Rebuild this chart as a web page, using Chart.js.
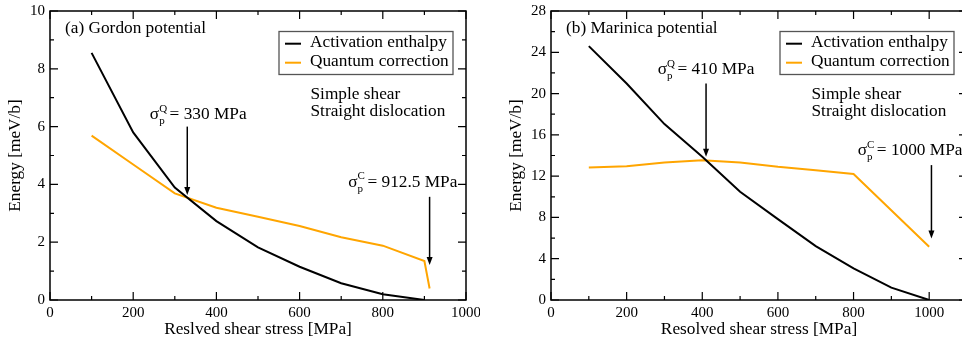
<!DOCTYPE html>
<html>
<head>
<meta charset="utf-8">
<title>Activation enthalpy</title>
<script src="https://cdn.jsdelivr.net/npm/chart.js"></script>
<style>
  body { margin: 0; width: 962px; height: 346px; overflow: hidden; background: #fff; }
  .panel { position: absolute; top: 0; }
</style>
</head>
<body>
<div class="panel" style="left:0"><canvas id="chartA" width="480" height="346"></canvas></div>
<div class="panel" style="left:480px"><canvas id="chartB" width="500" height="346"></canvas></div>

<script>
// (a) Gordon potential
var stressA   = [100, 200, 300, 400, 500, 600, 700, 800, 900];
var enthalpyA = [8.55, 5.80, 3.89, 2.73, 1.82, 1.15, 0.58, 0.20, 0.0];
var stressQA  = [100, 200, 300, 400, 500, 600, 700, 800, 900, 912.5];
var quantumA  = [5.69, 4.69, 3.69, 3.19, 2.88, 2.56, 2.17, 1.88, 1.35, 0.40];

// (b) Marinica potential
var stressB   = [100, 200, 300, 400, 500, 600, 700, 800, 900, 1000];
var enthalpyB = [24.6, 20.97, 17.04, 13.88, 10.49, 7.84, 5.22, 3.07, 1.2, 0.0];
var stressQB  = [100, 200, 300, 400, 500, 600, 700, 800, 1000];
var quantumB  = [12.84, 12.97, 13.33, 13.55, 13.33, 12.9, 12.58, 12.2, 5.16];

// axes: [min, max, major step, minor step]
var xAxisA = [0, 1000, 200, 100];
var yAxisA = [0, 10, 2, 1];
var xAxisB = [0, 1100, 200, 100];
var yAxisB = [0, 28, 4, 2];

var seriesNames = ["Activation enthalpy", "Quantum correction"];
var notes = ["Simple shear", "Straight dislocation"];

var serif = '"Liberation Serif", "Times New Roman", serif';
var big = "17.3px " + serif;

function pairs(xs, ys) {
    return xs.map(function (x, i) { return { x: x, y: ys[i] }; });
}

function drawSigma(ctx, x, y, sup, rest) {
    ctx.font = big;
    ctx.fillText("σ", x, y);
    var w = ctx.measureText("σ").width;
    ctx.font = "11px " + serif;
    ctx.fillText("p", x + w, y + 5);
    ctx.fillText(sup, x + w, y - 7.5);
    var sw = Math.max(ctx.measureText("p").width, ctx.measureText(sup).width);
    ctx.font = big;
    ctx.fillText(rest, x + w + sw + 2.5, y);
}

// frame with inward ticks, legend box and the annotations
var decorPlugin = {
    id: "decor",
    afterDatasetsDraw: function (chart, args, o) {
        var ctx = chart.ctx, a = chart.chartArea;
        var xs = chart.scales.x, ys = chart.scales.y;
        ctx.save();
        ctx.strokeStyle = "#000";
        ctx.fillStyle = "#000";

        // ticks
        ctx.lineWidth = 1.2;
        ctx.beginPath();
        var v, p, len;
        for (v = o.xAxis[0]; v <= o.xAxis[1] + 1e-9; v += o.xAxis[3]) {
            p = xs.getPixelForValue(v);
            len = Math.abs(v / o.xAxis[2] - Math.round(v / o.xAxis[2])) < 1e-6 ? 8 : 4;
            ctx.moveTo(p, a.bottom); ctx.lineTo(p, a.bottom - len);
            ctx.moveTo(p, a.top); ctx.lineTo(p, a.top + len);
        }
        for (v = o.yAxis[0]; v <= o.yAxis[1] + 1e-9; v += o.yAxis[3]) {
            p = ys.getPixelForValue(v);
            len = Math.abs(v / o.yAxis[2] - Math.round(v / o.yAxis[2])) < 1e-6 ? 8 : 4;
            ctx.moveTo(a.left, p); ctx.lineTo(a.left + len, p);
            ctx.moveTo(a.right, p); ctx.lineTo(a.right - len, p);
        }
        ctx.stroke();

        // frame
        ctx.lineWidth = 1.5;
        ctx.strokeRect(a.left, a.top, a.right - a.left, a.bottom - a.top);

        // panel title
        ctx.textAlign = "left";
        ctx.textBaseline = "alphabetic";
        ctx.font = big;
        ctx.fillText(o.title, a.left + 15, a.top + 22.3);

        // legend
        var bw = 174, bh = 43;
        var bx = a.right - 13 - bw, by = a.top + 20.5;
        ctx.fillStyle = "#fff";
        ctx.fillRect(bx, by, bw, bh);
        ctx.strokeStyle = "#555";
        ctx.lineWidth = 1.3;
        ctx.strokeRect(bx, by, bw, bh);
        chart.data.datasets.forEach(function (ds, i) {
            var ly = by + 12.2 + i * 19;
            ctx.strokeStyle = ds.borderColor;
            ctx.lineWidth = 2;
            ctx.beginPath();
            ctx.moveTo(bx + 6, ly); ctx.lineTo(bx + 22, ly);
            ctx.stroke();
            ctx.fillStyle = "#000";
            ctx.fillText(ds.label, bx + 31, ly + 3.6);
        });

        // notes under legend
        ctx.fillStyle = "#000";
        ctx.fillText(notes[0], bx + 31.5, a.top + 88);
        ctx.fillText(notes[1], bx + 31.5, a.top + 104.7);

        // arrows
        ctx.strokeStyle = "#000";
        ctx.lineWidth = 1.5;
        o.arrows.forEach(function (ar) {
            var x = xs.getPixelForValue(ar[0]);
            var y1 = ys.getPixelForValue(ar[1]);
            var y2 = ys.getPixelForValue(ar[2]);
            ctx.beginPath();
            ctx.moveTo(x, y1); ctx.lineTo(x, y2 - 6);
            ctx.stroke();
            ctx.beginPath();
            ctx.moveTo(x, y2); ctx.lineTo(x - 3, y2 - 8); ctx.lineTo(x + 3, y2 - 8);
            ctx.closePath();
            ctx.fill();
        });

        // sigma labels
        o.sigmas.forEach(function (s) {
            drawSigma(ctx, xs.getPixelForValue(s[0]), ys.getPixelForValue(s[1]), s[2], s[3]);
        });
        ctx.restore();
    }
};

function makeChart(id, enth, quant, xAxis, yAxis, xTitle, yTitlePad, yWidth, padRight, deco) {
    deco.xAxis = xAxis;
    deco.yAxis = yAxis;
    return new Chart(document.getElementById(id), {
        type: "line",
        data: {
            datasets: [{
                label: seriesNames[0],
                data: enth,
                borderColor: "#000000",
                borderWidth: 2,
                pointRadius: 0,
                tension: 0
            }, {
                label: seriesNames[1],
                data: quant,
                borderColor: "#FFA500",
                borderWidth: 2,
                pointRadius: 0,
                tension: 0
            }]
        },
        options: {
            responsive: false,
            animation: false,
            layout: { padding: { top: 11, right: padRight, left: 0, bottom: 0 } },
            plugins: {
                legend: { display: false },
                tooltip: { enabled: false },
                decor: deco
            },
            scales: {
                x: {
                    type: "linear",
                    min: xAxis[0], max: xAxis[1],
                    grid: { display: false, drawTicks: false, tickLength: 0 },
                    border: { display: false },
                    ticks: { stepSize: xAxis[2], includeBounds: false, padding: 4, color: "#000",
                             font: { family: serif, size: 15 },
                             callback: function (val) { return String(val); } },
                    title: { display: true, text: xTitle, color: "#000", padding: { top: 0, bottom: 5.8 },
                             font: { family: serif, size: 17.3 } },
                    afterFit: function (s) { s.height = 46; s.paddingLeft = 0; s.paddingRight = 0; }
                },
                y: {
                    min: yAxis[0], max: yAxis[1],
                    grid: { display: false, drawTicks: false, tickLength: 0 },
                    border: { display: false },
                    ticks: { stepSize: yAxis[2], includeBounds: false, padding: 5, color: "#000",
                             font: { family: serif, size: 15 },
                             callback: function (val) { return String(val); } },
                    title: { display: true, text: "Energy [meV/b]", color: "#000",
                             padding: { top: yTitlePad, bottom: 0 },
                             font: { family: serif, size: 17.3 } },
                    afterFit: function (s) { s.width = yWidth; s.paddingTop = 0; s.paddingBottom = 0; }
                }
            }
        },
        plugins: [decorPlugin]
    });
}

makeChart("chartA", pairs(stressA, enthalpyA), pairs(stressQA, quantumA), xAxisA, yAxisA,
    "Reslved shear stress [MPa]", 4.6, 50, 14, {
        title: "(a) Gordon potential",
        arrows: [[330, 6.0, 3.63], [912.5, 3.57, 1.21]],
        sigmas: [[240, 6.26, "Q", "= 330 MPa"], [717, 3.92, "C", "= 912.5 MPa"]]
    });

makeChart("chartB", pairs(stressB, enthalpyB), pairs(stressQB, quantumB), xAxisB, yAxisB,
    "Resolved shear stress [MPa]", 25.6, 71, 13, {
        title: "(b) Marinica potential",
        arrows: [[410, 20.97, 13.87], [1006, 13.07, 5.97]],
        sigmas: [[282, 21.88, "Q", "= 410 MPa"], [811, 14.04, "C", "= 1000 MPa"]]
    });
</script>
</body>
</html>
